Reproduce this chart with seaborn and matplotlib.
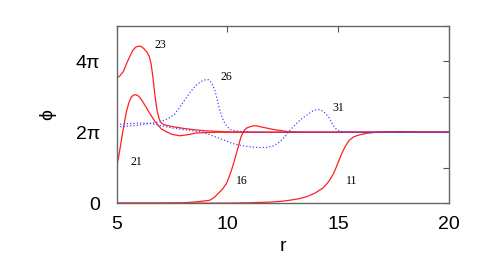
#!/usr/bin/env python3
import numpy as np
import pandas as pd
import matplotlib
matplotlib.use("Agg")
import matplotlib.pyplot as plt
import seaborn as sns

# phi values are given in units of pi
r_23 = [5.0, 5.15, 5.3, 5.44, 5.58, 5.72, 5.85, 5.98, 6.1, 6.22, 6.35, 6.46, 6.55, 6.63, 6.72,
        6.82, 6.92, 7.02, 7.2, 7.5, 8.0, 8.5, 9.0, 10.0, 12.0, 20.0]
phi_23 = [3.53, 3.6, 3.72, 3.94, 4.13, 4.31, 4.4, 4.43, 4.42, 4.36, 4.27, 4.15, 3.92, 3.55, 3.05,
          2.6, 2.36, 2.25, 2.2, 2.16, 2.11, 2.07, 2.04, 2.01, 2.0, 2.0]

r_21 = [5.0, 5.08, 5.16, 5.25, 5.35, 5.44, 5.55, 5.66, 5.76, 5.86, 5.98, 6.1, 6.25, 6.49, 6.65,
        6.79, 7.0, 7.24, 7.5, 7.85, 8.2, 8.6, 9.5, 12.0, 20.0]
phi_21 = [1.07, 1.3, 1.6, 1.95, 2.3, 2.6, 2.85, 3.0, 3.05, 3.06, 3.02, 2.93, 2.78, 2.53, 2.37,
          2.25, 2.1, 2.01, 1.94, 1.9, 1.93, 1.98, 2.0, 2.0, 2.0]

r_26 = [5.0, 6.0, 7.0, 7.3, 7.6, 8.0, 8.22, 8.44, 8.68, 8.9, 9.05, 9.15, 9.28, 9.43, 9.55, 9.65,
        9.77, 9.88, 10.03, 10.18, 10.6, 11.0, 20.0]
phi_26 = [2.15, 2.2, 2.3, 2.38, 2.5, 2.85, 3.05, 3.23, 3.38, 3.46, 3.49, 3.48, 3.4, 3.18, 2.88, 2.62,
          2.4, 2.25, 2.13, 2.06, 2.02, 2.0, 2.0]

r_31 = [5.0, 6.0, 6.5, 7.5, 8.9, 10.25, 10.6, 11.0, 11.4, 11.77, 12.1, 12.36, 12.6, 12.8, 13.05,
        13.27, 13.57, 13.85, 14.0, 14.15, 14.3, 14.45, 14.6, 14.77, 14.92, 15.07, 15.5, 16.0, 20.0]
phi_31 = [2.22, 2.26, 2.25, 2.12, 2.0, 1.68, 1.63, 1.59, 1.57, 1.57, 1.62, 1.73, 1.88, 2.04, 2.2,
          2.34, 2.48, 2.6, 2.63, 2.64, 2.6, 2.52, 2.4, 2.2, 2.08, 2.03, 2.0, 2.0, 2.0]

r_16 = [5.0, 7.0, 8.0, 8.5, 9.2, 9.4, 9.58, 9.78, 9.95, 10.08, 10.18, 10.3, 10.4, 10.5, 10.6,
        10.74, 10.87, 11.0, 11.15, 11.3, 11.6, 12.06, 12.8, 13.5, 20.0]
phi_16 = [0.0, 0.0, 0.01, 0.03, 0.08, 0.16, 0.27, 0.4, 0.55, 0.75, 0.93, 1.17, 1.4, 1.62, 1.85,
          2.04, 2.12, 2.15, 2.18, 2.18, 2.14, 2.08, 2.01, 2.0, 2.0]

r_11 = [5.0, 10.0, 11.0, 12.0, 12.4, 12.8, 13.2, 13.57, 13.95, 14.32, 14.5, 14.62, 14.78, 14.92,
        15.06, 15.2, 15.35, 15.5, 15.7, 15.98, 16.3, 16.58, 17.04, 17.8, 19.0, 20.0]
phi_11 = [0.0, 0.0, 0.01, 0.03, 0.05, 0.08, 0.12, 0.18, 0.28, 0.43, 0.55, 0.65, 0.82, 1.02,
          1.24, 1.45, 1.63, 1.77, 1.87, 1.93, 1.97, 1.99, 2.01, 2.02, 2.0, 2.0]

labels = ["23", "26", "21", "16", "11", "31"]
label_r = [6.98, 9.97, 5.9, 10.65, 15.6, 15.0]
label_phi = [4.45, 3.55, 1.15, 0.62, 0.62, 2.68]

yticks = [0, 1, 2, 3, 4, 5]
yticklabels = ["0", "", "2π", "", "4π", ""]
xticks = [5, 10, 15, 20]

RED = "#ff2020"
BLUE = "#4848ff"


def main():
    sns.set_style("white")
    plt.rcParams["font.family"] = ["Liberation Sans", "DejaVu Sans"]

    fig = plt.figure(figsize=(4.91, 2.73), dpi=100)
    ax = fig.add_axes([0.238, 0.256, 0.676, 0.649])

    curves = [
        (r_11, phi_11, RED, "-"),
        (r_16, phi_16, RED, "-"),
        (r_21, phi_21, RED, "-"),
        (r_23, phi_23, RED, "-"),
        (r_26, phi_26, BLUE, ":"),
        (r_31, phi_31, BLUE, ":"),
    ]
    for r, phi, color, ls in curves:
        df = pd.DataFrame({"r": r, "phi": np.array(phi) * np.pi})
        sns.lineplot(data=df, x="r", y="phi", ax=ax, color=color, linestyle=ls,
                     linewidth=0.9, sort=False, estimator=None)

    for txt, x, y in zip(labels, label_r, label_phi):
        ax.text(x, y * np.pi, txt, fontsize=8.5, family=["Liberation Serif", "DejaVu Serif"],
                ha="center", va="center", color="black")

    ax.set_xlim(5, 20)
    ax.set_ylim(0, 5 * np.pi)
    ax.set_xticks(xticks)
    ax.set_yticks(np.array(yticks) * np.pi)
    ax.set_yticklabels(yticklabels)
    ax.tick_params(direction="in", length=4, width=0.8, color="#555555",
                   top=True, right=True, labelsize=14, labelcolor="black")
    ax.tick_params(axis="y", pad=12)
    ax.tick_params(axis="x", pad=9)
    for s in ax.spines.values():
        s.set_color("#666666")
        s.set_linewidth(1.0)

    ax.set_xlabel("r", fontsize=14, labelpad=4, color="black")
    ax.set_ylabel("ϕ", fontsize=14, labelpad=14, color="black")

    fig.savefig("out.png", dpi=100)


if __name__ == "__main__":
    main()
